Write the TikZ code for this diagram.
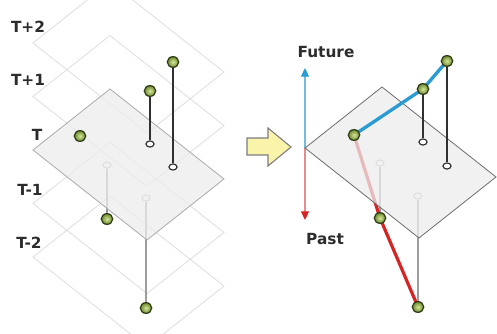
\documentclass[tikz,border=0pt]{standalone}
\usepackage{fontspec}
\newfontfamily\labfont{DejaVu Sans}
\usetikzlibrary{arrows.meta,shapes.geometric}

\definecolor{layerline}{HTML}{DEDEDE}
\definecolor{planefill}{HTML}{EDEDED}
\definecolor{planeedgeA}{HTML}{ABABAB}
\definecolor{planeedgeB}{HTML}{6E6E6E}
\definecolor{ballin}{HTML}{D4E59A}
\definecolor{ballout}{HTML}{6E8A2C}
\definecolor{ballrim}{HTML}{2E3A16}
\definecolor{stemdark}{HTML}{303030}
\definecolor{stemlight}{HTML}{9C9C9C}
\definecolor{footlight}{HTML}{B8B8B8}
\definecolor{futureblue}{HTML}{2A9BD3}
\definecolor{futurepale}{HTML}{72BCE0}
\definecolor{pastred}{HTML}{D42424}
\definecolor{pastpale}{HTML}{E58C8C}
\definecolor{labtext}{HTML}{2C2C2C}
\definecolor{arrowfill}{HTML}{FAF3AA}
\definecolor{arrowedge}{HTML}{7C7C7C}

\tikzset{
  layer/.style={draw=layerline, line width=0.6pt},
  tplane/.style={draw=#1, fill=planefill, fill opacity=0.75, line width=0.6pt},
  ball/.style={ellipse, minimum width=8.6pt, minimum height=8pt, inner sep=0pt,
    draw=ballrim, line width=0.9pt, shade, shading=radial,
    inner color=ballin, outer color=ballout},
  foot/.style={ellipse, minimum width=6pt, minimum height=4.6pt, inner sep=0pt,
    draw=#1, fill=white, line width=0.9pt},
  stem/.style={draw=#1, line width=1.1pt},
  lab/.style={text=labtext, font=\labfont\bfseries\fontsize{11.5}{13}\selectfont},
  future/.style={draw=futureblue, line width=2.5pt, line cap=round},
  past/.style={draw=pastred, line width=2.4pt, line cap=round},
}

\begin{document}
\begin{tikzpicture}[x=0.75pt, y=-0.75pt]
  \clip (0,0) rectangle (497,334);
  \fill[white] (0,0) rectangle (497,334);

  % ---------- left panel: stacked time layers ----------
  \foreach \ly in {43, 96.5, 203.5, 257}
    \draw[layer] (33,\ly) -- ++(77,-61) -- ++(114,90) -- ++(-77,61) -- cycle;

  \node[lab] (lT2) at (28,27)  {T+2};
  \node[lab] (lT1) at (28,80)  {T+1};
  \node[lab] (lT)  at (37,135) {T};
  \node[lab] (lM1) at (30,190) {T-1};
  \node[lab] (lM2) at (29,243) {T-2};

  % points below layer T and their projections
  \node[foot=footlight] (fM1) at (107,165) {};
  \node[foot=footlight] (fM2) at (146,198) {};
  \node[ball] (bM1) at (107,219) {};
  \node[ball] (bM2) at (146,308) {};
  \draw[stem=stemlight, line width=0.9pt] (fM1) -- (bM1);
  \draw[stem=stemlight, line width=0.9pt] (fM2) -- (bM2);

  % layer T
  \draw[tplane=planeedgeA] (33,150) -- ++(77,-61) -- ++(114,90) -- ++(-77,61) -- cycle;

  % points above layer T
  \node[foot=stemdark] (fP1) at (150,144) {};
  \node[foot=stemdark] (fP2) at (173,167) {};
  \node[ball] (bP1) at (150,91) {};
  \node[ball] (bP2) at (173,62) {};
  \node[ball] (bT)  at (80,136) {};
  \draw[stem=stemdark] (bP1) -- (fP1);
  \draw[stem=stemdark] (bP2) -- (fP2);

  % ---------- block arrow ----------
  \draw[draw=arrowedge, fill=arrowfill, line width=0.8pt, line join=miter]
    (247,138) -- (268,138) -- (268,128) -- (291,147) -- (268,166)
    -- (268,155) -- (247,155) -- cycle;

  % ---------- right panel: trajectory through time ----------
  \coordinate (axO)  at (305,148);
  \coordinate (axUp) at (305,68);
  \coordinate (axDn) at (305,220);
  \draw[draw=futurepale, line width=0.8pt,
        -{Triangle[length=6.5pt, width=6pt, color=futureblue]}] (axO) -- (axUp);
  \draw[draw=pastpale, line width=0.8pt,
        -{Triangle[length=6.5pt, width=6pt, color=pastred]}] (axO) -- (axDn);
  \node[lab] (lFut)  at (326,52)  {Future};
  \node[lab] (lPast) at (325,239) {Past};

  \coordinate (rT)  at (354,135);
  \coordinate (rP1) at (423,89);
  \coordinate (rP2) at (447,61);
  \coordinate (rM1) at (380,218);
  \coordinate (rM2) at (418,307);

  \node[foot=footlight] (rfM1) at (380,163) {};
  \node[foot=footlight] (rfM2) at (418,196) {};
  \draw[stem=stemlight, line width=0.9pt] (rfM1) -- (rM1);
  \draw[stem=stemlight, line width=0.9pt] (rfM2) -- (rM2);
  \draw[past] (rT) -- (rM1) -- (rM2);

  \draw[tplane=planeedgeB] (axO) -- ++(77,-61) -- ++(114,90) -- ++(-77,61) -- cycle;

  \node[foot=stemdark] (rfP1) at (423,142) {};
  \node[foot=stemdark] (rfP2) at (447,166) {};
  \draw[stem=stemdark] (rP1) -- (rfP1);
  \draw[stem=stemdark] (rP2) -- (rfP2);
  \draw[future] (rT) -- (rP1) -- (rP2);

  \node[ball] (rbT)  at (rT)  {};
  \node[ball] (rbP1) at (rP1) {};
  \node[ball] (rbP2) at (rP2) {};
  \node[ball] (rbM1) at (rM1) {};
  \node[ball] (rbM2) at (rM2) {};
\end{tikzpicture}
\end{document}
